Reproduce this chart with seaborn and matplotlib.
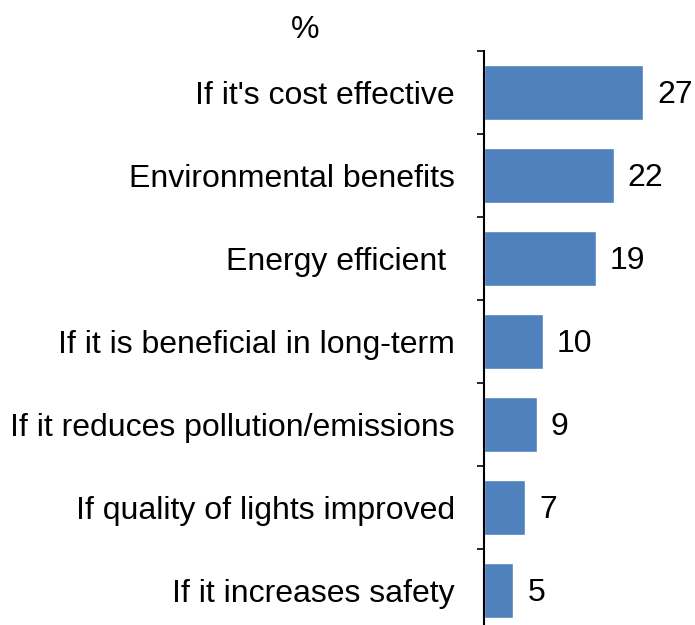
import matplotlib
matplotlib.use("Agg")
import matplotlib.pyplot as plt
import numpy as np
import pandas as pd
import seaborn as sns

categories = [
    "If it's cost effective",
    "Environmental benefits",
    "Energy efficient ",
    "If it is beneficial in long-term",
    "If it reduces pollution/emissions",
    "If quality of lights improved",
    "If it increases safety",
]
values = [27, 22, 19, 10, 9, 7, 5]

df = pd.DataFrame({"reason": categories, "pct": values})

sns.set_style("white")
plt.rcParams["font.family"] = ["Liberation Sans", "DejaVu Sans"]
plt.rcParams["text.color"] = "black"
plt.rcParams["ytick.color"] = "black"
plt.rcParams["ytick.labelcolor"] = "black"

FS = 23

fig = plt.figure(figsize=(6.95, 6.25), dpi=100)
ax = fig.add_axes([484 / 695, 1 - 632 / 625, 1 - 484 / 695, 581 / 625])

sns.barplot(data=df, x="pct", y="reason", orient="h", color="#4F81BD",
            saturation=1, width=0.66, ax=ax)

ax.set_xlim(0, 35.8)
ax.set_ylim(len(categories) - 0.5, -0.5)
ax.set_xlabel("")
ax.set_ylabel("")
ax.set_xticks([])

for side in ["top", "right", "bottom"]:
    ax.spines[side].set_visible(False)
ax.spines["left"].set_color("black")
ax.spines["left"].set_linewidth(1.5)

# labels sit at category centres, tick marks at the boundaries
ax.set_yticks(np.arange(len(categories)))
ax.set_yticklabels(categories, fontsize=FS, color="black")
ax.set_yticks(np.arange(len(categories) + 1) - 0.5, minor=True)
ax.tick_params(axis="y", which="major", length=0, pad=21)
ax.tick_params(axis="y", which="minor", length=5, width=1.2, color="black", left=True)

for i, v in enumerate(values):
    ax.annotate(str(v), xy=(v, i), xytext=(10, -1.5), textcoords="offset points",
                ha="left", va="center", fontsize=FS, color="black")

fig.text(305 / 695, 1 - 30 / 625, "%", fontsize=FS, ha="center", va="center")

fig.savefig("out.png", dpi=100)
